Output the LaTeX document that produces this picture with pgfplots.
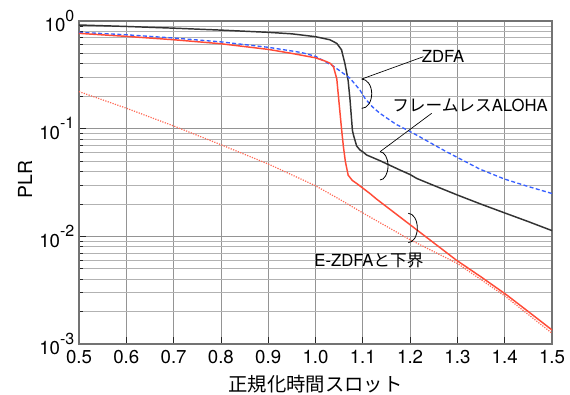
\documentclass[border=0pt]{standalone}
\usepackage{fontspec}
\setmainfont{TeX Gyre Heros}
\newfontfamily\cjk{Noto Sans CJK JP}
\usepackage{pgfplots}
\pgfplotsset{compat=1.18}
\definecolor{cblack}{RGB}{51,51,51}
\definecolor{cred}{RGB}{255,75,55}
\definecolor{cblue}{RGB}{55,95,255}
\definecolor{cdot}{RGB}{255,105,85}
\newcommand\sups[1]{\raisebox{0.58em}{\fontsize{12}{12}\selectfont #1}}
\begin{document}
\begin{tikzpicture}
\useasboundingbox (-59.25pt,-37.5pt) rectangle (368.25pt,258pt);
\begin{axis}[
  ymode=log, scale only axis, width=354.75pt, height=242.25pt,
  xmin=0.5, xmax=1.5, ymin=1e-3, ymax=1,
  xtick={0.5,0.6,0.7,0.8,0.9,1.0,1.1,1.2,1.3,1.4,1.5},
  xticklabels={0.5,0.6,0.7,0.8,0.9,1.0,1.1,1.2,1.3,1.4,1.5},
  ytick={1e-3,1e-2,1e-1,1},
  yticklabels={10\sups{-3},10\sups{-2},10\sups{-1},10\sups{0}},
  minor ytick={2e-3,3e-3,4e-3,5e-3,6e-3,7e-3,8e-3,9e-3,2e-2,3e-2,4e-2,5e-2,6e-2,7e-2,8e-2,9e-2,0.2,0.3,0.4,0.5,0.6,0.7,0.8,0.9},
  xtick pos=bottom, ytick pos=left, tick align=inside,
  major tick length=5pt, minor tick length=3pt,
  tick style={black!85, line width=0.6pt},
  xmajorgrids, ymajorgrids, yminorgrids,
  major grid style={black!42, line width=0.6pt},
  minor grid style={black!30, line width=0.6pt},
  axis line style={black!55, line width=0.8pt},
  ticklabel style={font=\fontsize{14}{14}\selectfont},
  xticklabel style={yshift=-1pt},
  xlabel={\cjk 正規化時間スロット},
  ylabel={PLR},
  label style={font=\fontsize{14.5}{14.5}\selectfont},
  xlabel style={at={(axis description cs:0.5,-0.124)}, anchor=center},
  ylabel style={at={(axis description cs:-0.114,0.51)}, anchor=center},
  clip mode=individual,
]
% frameless ALOHA
\addplot[cblack, line width=1.1pt] coordinates {
(0.5,0.918) (0.6,0.89) (0.7,0.858) (0.8,0.823) (0.9,0.785) (0.95,0.76) (1.0,0.715)
(1.03,0.67) (1.045,0.62) (1.055,0.54) (1.062,0.405) (1.066,0.33) (1.069,0.28) (1.073,0.185)
(1.078,0.097) (1.080,0.088) (1.087,0.069) (1.094,0.0634) (1.101,0.0605) (1.108,0.057)
(1.136,0.0505) (1.1786,0.0413) (1.2,0.0375) (1.214,0.0345) (1.25,0.0297) (1.3,0.0242)
(1.35,0.0199) (1.4,0.0165) (1.45,0.0137) (1.5,0.0113)
};
% ZDFA
\addplot[cblue, line width=1.0pt, dash pattern=on 3pt off 1.8pt] coordinates {
(0.5,0.785) (0.6,0.745) (0.7,0.695) (0.8,0.64) (0.9,0.57) (0.97,0.51) (1.0,0.47)
(1.038,0.38) (1.073,0.294) (1.094,0.228) (1.105,0.19) (1.12,0.16) (1.136,0.139)
(1.17,0.11) (1.207,0.0906) (1.25,0.071) (1.277,0.061) (1.3,0.054) (1.348,0.042)
(1.4,0.034) (1.45,0.029) (1.5,0.025)
};
% E-ZDFA
\addplot[cred, line width=1.1pt] coordinates {
(0.5,0.768) (0.6,0.72) (0.7,0.67) (0.8,0.615) (0.9,0.545) (0.95,0.50) (1.0,0.455)
(1.02,0.425) (1.031,0.405) (1.038,0.376) (1.045,0.29) (1.05,0.17) (1.055,0.10)
(1.059,0.068) (1.063,0.05) (1.069,0.037) (1.078,0.033) (1.087,0.031) (1.115,0.025)
(1.129,0.0222) (1.214,0.0115) (1.298,0.006) (1.35,0.0042) (1.404,0.00286) (1.45,0.002) (1.5,0.00135)
};
% lower bound
\addplot[cdot, line width=0.9pt, densely dotted] coordinates {
(0.5,0.221) (0.6,0.155) (0.7,0.106) (0.8,0.071) (0.9,0.047) (1.0,0.0295)
(1.05,0.0222) (1.1,0.0165) (1.2,0.0093) (1.3,0.0056) (1.4,0.0028) (1.5,0.00126)
};
% annotations
\node[font=\fontsize{12.5}{12.5}\selectfont] at (axis cs:1.2696,0.473) {ZDFA};
\draw[black, line width=0.5pt] (axis cs:1.228,0.466) -- (axis cs:1.0977,0.289);
\draw[black, line width=0.6pt] (axis cs:1.0977,0.289) arc[start angle=90, end angle=-90, x radius=7.5pt, y radius=11pt];
\node[font=\fontsize{12.5}{12.5}\selectfont] at (axis cs:1.3266,0.166) {{\cjk フレームレス}ALOHA};
\draw[black, line width=0.5pt] (axis cs:1.2457,0.139) -- (axis cs:1.1364,0.0611);
\draw[black, line width=0.6pt] (axis cs:1.1364,0.0611) arc[start angle=90, end angle=-90, x radius=6pt, y radius=10.6pt];
\node[font=\fontsize{12.5}{12.5}\selectfont] at (axis cs:1.113,0.00596) {E-ZDFA{\cjk と下界}};
\draw[black, line width=0.6pt] (axis cs:1.1962,0.01637) arc[start angle=90, end angle=-90, x radius=6.75pt, y radius=11pt];
\end{axis}
\end{tikzpicture}
\end{document}
